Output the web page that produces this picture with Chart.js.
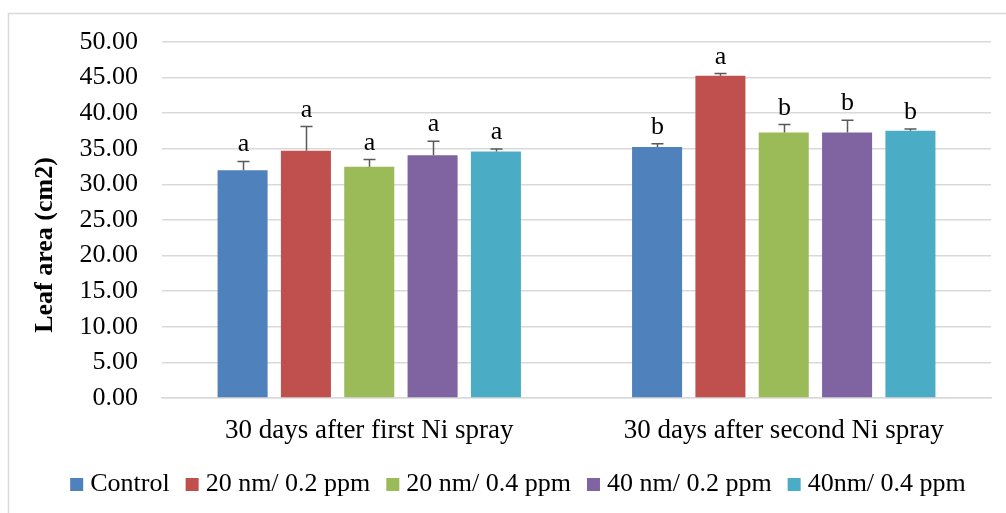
<!DOCTYPE html>
<html>
<head>
<meta charset="utf-8">
<script src="https://cdn.jsdelivr.net/npm/chart.js@4.4.0/dist/chart.umd.min.js"></script>
<style>
html,body{margin:0;padding:0;background:#fff;}
canvas{display:block;}
</style>
</head>
<body>
<canvas id="c" width="1006" height="513"></canvas>
<script>
const categories = ["30 days after first Ni spray", "30 days after second Ni spray"];
const seriesNames = ["Control", "20 nm/ 0.2 ppm", "20 nm/ 0.4 ppm", "40 nm/ 0.2 ppm", "40nm/ 0.4 ppm"];
const seriesColors = ["#4F81BD", "#C0504D", "#9BBB59", "#8064A2", "#4BACC6"];
const controlValues = [31.97, 35.25];
const nm20ppm02Values = [34.73, 45.27];
const nm20ppm04Values = [32.49, 37.30];
const nm40ppm02Values = [34.10, 37.30];
const nm40ppm04Values = [34.63, 37.54];
const controlErrors = [1.25, 0.45];
const nm20ppm02Errors = [3.40, 0.30];
const nm20ppm04Errors = [1.00, 1.10];
const nm40ppm02Errors = [1.95, 1.70];
const nm40ppm04Errors = [0.35, 0.25];
const controlLetters = ["a", "b"];
const nm20ppm02Letters = ["a", "a"];
const nm20ppm04Letters = ["a", "b"];
const nm40ppm02Letters = ["a", "b"];
const nm40ppm04Letters = ["a", "b"];
const yTicks = [0, 5, 10, 15, 20, 25, 30, 35, 40, 45, 50];
const yAxisTitle = "Leaf area (cm2)";

const allValues = [controlValues, nm20ppm02Values, nm20ppm04Values, nm40ppm02Values, nm40ppm04Values];
const allErrors = [controlErrors, nm20ppm02Errors, nm20ppm04Errors, nm40ppm02Errors, nm40ppm04Errors];
const allLetters = [controlLetters, nm20ppm02Letters, nm20ppm04Letters, nm40ppm02Letters, nm40ppm04Letters];

const FONT = "'Liberation Serif', 'Times New Roman', serif";

const framePlugin = {
  id: 'frame',
  beforeDraw(chart) {
    const ctx = chart.ctx;
    ctx.save();
    ctx.fillStyle = '#ffffff';
    ctx.fillRect(0, 0, chart.width, chart.height);
    ctx.strokeStyle = '#d9d9d9';
    ctx.lineWidth = 1.5;
    ctx.strokeRect(8.5, 13.5, chart.width + 20, chart.height + 20);
    ctx.restore();
  }
};

const errorPlugin = {
  id: 'errorBars',
  afterDatasetsDraw(chart) {
    const ctx = chart.ctx;
    const yScale = chart.scales.y;
    ctx.save();
    chart.data.datasets.forEach((ds, di) => {
      const meta = chart.getDatasetMeta(di);
      meta.data.forEach((bar, i) => {
        const v = ds.data[i];
        const e = ds.errors[i];
        const yTop = yScale.getPixelForValue(v + e);
        const yBar = yScale.getPixelForValue(v);
        const x = Math.round(bar.x) + 0.5;
        ctx.strokeStyle = '#595959';
        ctx.lineWidth = 1.5;
        ctx.beginPath();
        ctx.moveTo(x, yBar);
        ctx.lineTo(x, yTop);
        ctx.moveTo(x - 6, yTop);
        ctx.lineTo(x + 6, yTop);
        ctx.stroke();
        ctx.fillStyle = '#000';
        ctx.font = '26px ' + FONT;
        ctx.textAlign = 'center';
        ctx.textBaseline = 'alphabetic';
        ctx.fillText(ds.letters[i], x, yTop - 10);
      });
    });
    ctx.restore();
  }
};

const axisTitlePlugin = {
  id: 'axisTitle',
  afterDraw(chart) {
    const ctx = chart.ctx;
    const area = chart.chartArea;
    ctx.save();
    ctx.translate(45, (area.top + area.bottom) / 2 + 25);
    ctx.rotate(-Math.PI / 2);
    ctx.font = 'bold 26px ' + FONT;
    ctx.fillStyle = '#000';
    ctx.textAlign = 'center';
    ctx.textBaseline = 'middle';
    ctx.fillText(yAxisTitle, 0, 0);
    ctx.restore();
  }
};

const legendPlugin = {
  id: 'customLegend',
  afterDraw(chart) {
    const ctx = chart.ctx;
    ctx.save();
    ctx.font = '26px ' + FONT;
    const box = 13, gap = 7, spacing = 16;
    const items = chart.data.datasets.map(ds => ({
      label: ds.label, color: ds.backgroundColor, w: ctx.measureText(ds.label).width
    }));
    const total = items.reduce((s, it) => s + box + gap + it.w, 0) + spacing * (items.length - 1);
    let x = 518 - total / 2;
    const baseline = 491;
    items.forEach(it => {
      ctx.fillStyle = it.color;
      ctx.fillRect(x, baseline - box, box, box);
      ctx.fillStyle = '#000';
      ctx.textAlign = 'left';
      ctx.textBaseline = 'alphabetic';
      ctx.fillText(it.label, x + box + gap, baseline);
      x += box + gap + it.w + spacing;
    });
    ctx.restore();
  }
};

new Chart(document.getElementById('c'), {
  type: 'bar',
  data: {
    labels: categories,
    datasets: seriesNames.map((name, k) => ({
      label: name,
      data: allValues[k],
      errors: allErrors[k],
      letters: allLetters[k],
      backgroundColor: seriesColors[k],
      borderWidth: 0,
      categoryPercentage: 0.764,
      barPercentage: 0.79
    }))
  },
  options: {
    responsive: false,
    devicePixelRatio: 1,
    animation: false,
    layout: { padding: { top: 42, right: 15, bottom: 54, left: 0 } },
    plugins: {
      tooltip: { enabled: false },
      legend: { display: false }
    },
    scales: {
      x: {
        grid: { display: false, drawTicks: false },
        border: { display: true, color: '#d9d9d9', width: 1.5 },
        ticks: { font: { family: FONT, size: 27 }, color: '#000', padding: 17 },
        afterFit(scale) { scale.height = 61; }
      },
      y: {
        min: 0,
        max: 50,
        afterBuildTicks(scale) { scale.ticks = yTicks.map(v => ({ value: v })); },
        grid: { color: '#d9d9d9', lineWidth: 1.5, drawTicks: false },
        border: { display: false },
        ticks: {
          font: { family: FONT, size: 26 },
          color: '#000',
          padding: 24,
          callback: v => Number(v).toFixed(2)
        },
        title: { display: false },
        afterFit(scale) { scale.width = 162; }
      }
    }
  },
  plugins: [framePlugin, errorPlugin, axisTitlePlugin, legendPlugin]
});
</script>
</body>
</html>
